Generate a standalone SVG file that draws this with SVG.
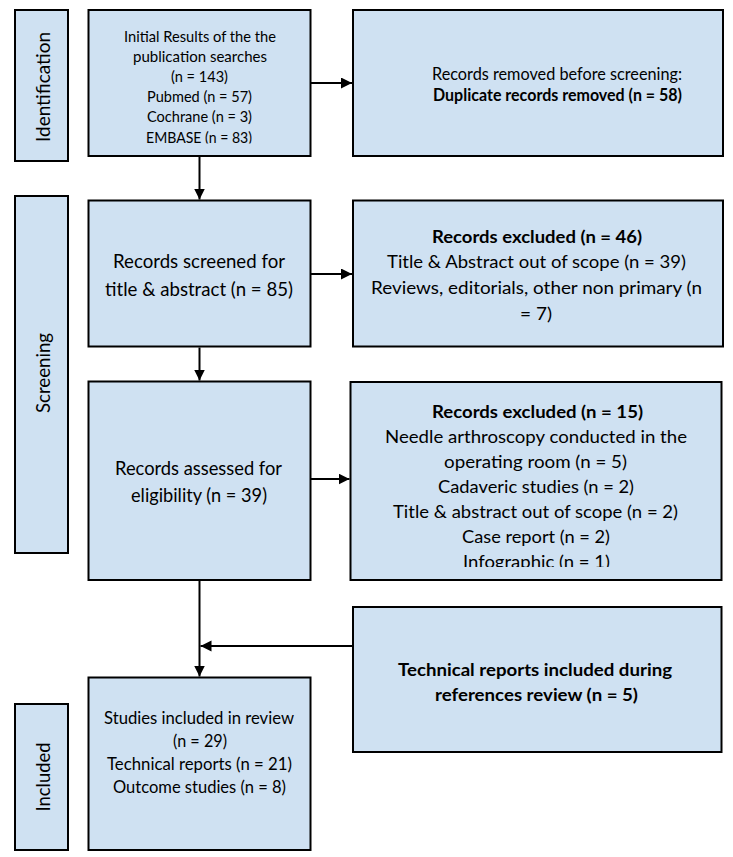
<svg xmlns="http://www.w3.org/2000/svg" width="733" height="857" viewBox="0 0 733 857">
<style>
.box{fill:#cfe1f2;stroke:#000;stroke-width:2}
.t{font-family:Lato,"Carlito","Liberation Sans",sans-serif;fill:#000;text-anchor:middle}
.s16{font-size:16px}
.s17{font-size:17.3px}
.s18{font-size:18px}
.s20{font-size:20px}
.b{font-weight:bold}
.conn{stroke:#000;stroke-width:2;fill:none}
</style>
<defs>
<marker id="ah" markerUnits="userSpaceOnUse" markerWidth="12" markerHeight="12" refX="11" refY="5.5" orient="auto">
<path d="M0,0 L11,5.5 L0,11 z" fill="#000"/>
</marker>
<clipPath id="c1"><rect x="88" y="10" width="223" height="133.5"/></clipPath>
<clipPath id="c3"><rect x="350" y="382" width="372" height="185"/></clipPath>
</defs>

<g id="label-identification">
<rect class="box" x="15" y="10" width="53" height="151"/>
<text class="t s20" transform="translate(49.5,87) rotate(-90)" textLength="110" lengthAdjust="spacingAndGlyphs">Identification</text>
</g>
<g id="label-screening">
<rect class="box" x="15" y="196" width="53" height="357"/>
<text class="t s20" transform="translate(49.5,373) rotate(-90)" textLength="80" lengthAdjust="spacingAndGlyphs">Screening</text>
</g>
<g id="label-included">
<rect class="box" x="15" y="704" width="53" height="146"/>
<text class="t s20" transform="translate(49.5,777) rotate(-90)" textLength="69" lengthAdjust="spacingAndGlyphs">Included</text>
</g>

<g id="node-initial">
<rect class="box" x="88.5" y="10" width="222" height="146"/>
<g clip-path="url(#c1)">
<text class="t s16" x="200" y="41.5" textLength="152" lengthAdjust="spacingAndGlyphs">Initial Results of the the</text>
<text class="t s16" x="200" y="61.7" textLength="134" lengthAdjust="spacingAndGlyphs">publication searches</text>
<text class="t s16" x="199.5" y="81.9" textLength="57" lengthAdjust="spacingAndGlyphs">(n = 143)</text>
<text class="t s16" x="199.5" y="102.1" textLength="105" lengthAdjust="spacingAndGlyphs">Pubmed (n = 57)</text>
<text class="t s16" x="199.5" y="122.3" textLength="105" lengthAdjust="spacingAndGlyphs">Cochrane (n = 3)</text>
<text class="t s16" x="199" y="142.5" textLength="106" lengthAdjust="spacingAndGlyphs">EMBASE (n = 83)</text>
</g>
</g>

<g id="node-removed">
<rect class="box" x="353" y="10" width="370" height="146"/>
<text class="t s17" x="557" y="79.5" textLength="250" lengthAdjust="spacingAndGlyphs">Records removed before screening:</text>
<text class="t s17 b" x="557.5" y="101.2" textLength="249" lengthAdjust="spacingAndGlyphs">Duplicate records removed (n = 58)</text>
</g>

<g id="node-screened">
<rect class="box" x="88.5" y="200.5" width="222" height="146"/>
<text class="t s20" x="199" y="268" textLength="172" lengthAdjust="spacingAndGlyphs">Records screened for</text>
<text class="t s20" x="199" y="295.5" textLength="188" lengthAdjust="spacingAndGlyphs">title &amp; abstract (n = 85)</text>
</g>

<g id="node-excluded1">
<rect class="box" x="353" y="200.5" width="370" height="146"/>
<text class="t s17 b" x="537" y="242.8" textLength="210" lengthAdjust="spacingAndGlyphs">Records excluded (n = 46)</text>
<text class="t s17" x="536.5" y="268.3" textLength="299" lengthAdjust="spacingAndGlyphs">Title &amp; Abstract out of scope (n = 39)</text>
<text class="t s17" x="536.5" y="293.9" textLength="331" lengthAdjust="spacingAndGlyphs">Reviews, editorials, other non primary (n</text>
<text class="t s17" x="536" y="319.5" textLength="32" lengthAdjust="spacingAndGlyphs">= 7)</text>
</g>

<g id="node-assessed">
<rect class="box" x="88.5" y="381.5" width="222" height="198.5"/>
<text class="t s20" x="198.5" y="475" textLength="167" lengthAdjust="spacingAndGlyphs">Records assessed for</text>
<text class="t s20" x="199" y="501.7" textLength="136" lengthAdjust="spacingAndGlyphs">eligibility (n = 39)</text>
</g>

<g id="node-excluded2">
<rect class="box" x="350.5" y="382" width="371" height="198"/>
<g clip-path="url(#c3)">
<text class="t s17 b" x="537.5" y="418" textLength="211" lengthAdjust="spacingAndGlyphs">Records excluded (n = 15)</text>
<text class="t s17" x="536" y="443" textLength="302" lengthAdjust="spacingAndGlyphs">Needle arthroscopy conducted in the</text>
<text class="t s17" x="535.5" y="468" textLength="183" lengthAdjust="spacingAndGlyphs">operating room (n = 5)</text>
<text class="t s17" x="536" y="493" textLength="196" lengthAdjust="spacingAndGlyphs">Cadaveric studies (n = 2)</text>
<text class="t s17" x="535.5" y="518" textLength="285" lengthAdjust="spacingAndGlyphs">Title &amp; abstract out of scope (n = 2)</text>
<text class="t s17" x="536" y="543" textLength="148" lengthAdjust="spacingAndGlyphs">Case report (n = 2)</text>
<text class="t s17" x="536.5" y="568" textLength="147" lengthAdjust="spacingAndGlyphs">Infographic (n = 1)</text>
</g>
</g>

<g id="node-technical">
<rect class="box" x="353" y="607" width="368.5" height="145"/>
<text class="t s17 b" x="535" y="675.5" textLength="274" lengthAdjust="spacingAndGlyphs">Technical reports included during</text>
<text class="t s17 b" x="536.5" y="700.5" textLength="203" lengthAdjust="spacingAndGlyphs">references review (n = 5)</text>
</g>

<g id="node-included">
<rect class="box" x="88.5" y="677.5" width="222" height="172.5"/>
<text class="t s18" x="199" y="724" textLength="190" lengthAdjust="spacingAndGlyphs">Studies included in review</text>
<text class="t s18" x="200" y="747" textLength="54" lengthAdjust="spacingAndGlyphs">(n = 29)</text>
<text class="t s18" x="199.5" y="770" textLength="185" lengthAdjust="spacingAndGlyphs">Technical reports (n = 21)</text>
<text class="t s18" x="199.5" y="793" textLength="173" lengthAdjust="spacingAndGlyphs">Outcome studies (n = 8)</text>
</g>

<g id="connectors">
<line class="conn" x1="311" y1="83" x2="352" y2="83" marker-end="url(#ah)"/>
<line class="conn" x1="199.5" y1="157" x2="199.5" y2="199.5" marker-end="url(#ah)"/>
<line class="conn" x1="311" y1="274" x2="352" y2="274" marker-end="url(#ah)"/>
<line class="conn" x1="199.5" y1="347.5" x2="199.5" y2="380.5" marker-end="url(#ah)"/>
<line class="conn" x1="311" y1="479" x2="349.5" y2="479" marker-end="url(#ah)"/>
<line class="conn" x1="199.5" y1="581" x2="199.5" y2="676.5" marker-end="url(#ah)"/>
<line class="conn" x1="352" y1="646" x2="200.5" y2="646" marker-end="url(#ah)"/>
</g>
</svg>
